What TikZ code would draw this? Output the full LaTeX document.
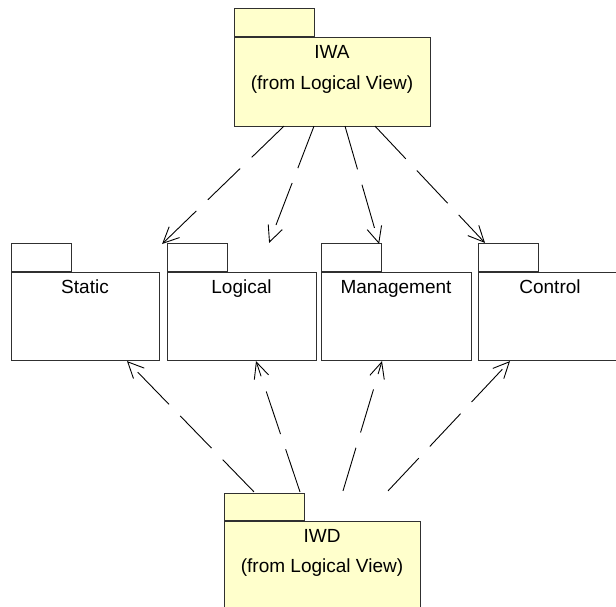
\documentclass[tikz,border=0pt]{standalone}
\usepackage{fontspec}
\setmainfont{Liberation Sans}
\usetikzlibrary{arrows.meta,calc}
\definecolor{pkgyellow}{HTML}{FFFFCC}
\definecolor{pkgline}{HTML}{303030}
\begin{document}
\begin{tikzpicture}[x=1pt,y=-1pt,
  pkgbody/.style={draw=pkgline, line width=1.1pt, fill=#1, inner sep=0pt,
    minimum height=88pt, anchor=north west},
  pkgtab/.style={draw=pkgline, line width=1.1pt, fill=#1, inner sep=0pt,
    minimum height=28pt, anchor=south west},
  pkglabel/.style={anchor=base, inner sep=0pt, font=\fontsize{19}{22}\selectfont},
  dep/.style={draw=black, line width=0.9pt, dash pattern=on 45pt off 16pt,
    -{Straight Barb[length=16pt,width=15pt]}}]
\useasboundingbox (0,0) rectangle (616,607);
\clip (0,0) rectangle (616,607);
\fill[white] (0,0) rectangle (616,607);

% top package
\node[pkgtab=pkgyellow, minimum width=80pt] (iwaTab) at (234,37) {};
\node[pkgbody=pkgyellow, minimum width=196pt, minimum height=89pt] (iwa) at (234,37) {};
\node[pkglabel] (iwaName) at (332,59) {IWA};
\node[pkglabel] (iwaFrom) at (332,90) {(from Logical View)};

% middle row of packages
\node[pkgtab=white, minimum width=60pt] (staticTab) at (11,272) {};
\node[pkgbody=white, minimum width=148pt] (static) at (11,272) {};
\node[pkglabel] (staticName) at (85,293) {Static};

\node[pkgtab=white, minimum width=60pt] (logicalTab) at (167,272) {};
\node[pkgbody=white, minimum width=149pt] (logical) at (167,272) {};
\node[pkglabel] (logicalName) at (241.5,293) {Logical};

\node[pkgtab=white, minimum width=60pt] (mgmtTab) at (321,272) {};
\node[pkgbody=white, minimum width=150pt] (mgmt) at (321,272) {};
\node[pkglabel] (mgmtName) at (396,293) {Management};

\node[pkgtab=white, minimum width=60pt] (controlTab) at (478,272) {};
\node[pkgbody=white, minimum width=150pt] (control) at (478,272) {};
\node[pkglabel] (controlName) at (550,293) {Control};

% bottom package
\node[pkgtab=pkgyellow, minimum width=80pt, minimum height=27pt] (iwdTab) at (224,521) {};
\node[pkgbody=pkgyellow, minimum width=196pt, minimum height=89pt] (iwd) at (224,521) {};
\node[pkglabel] (iwdName) at (322,542) {IWD};
\node[pkglabel] (iwdFrom) at (322,572) {(from Logical View)};

% attachment points of the dependencies
\coordinate (a1s) at ($(iwa.south west)+(50,-1)$);
\coordinate (a2s) at ($(iwa.south west)+(80,-1)$);
\coordinate (a3s) at ($(iwa.south west)+(111,-1)$);
\coordinate (a4s) at ($(iwa.south west)+(141,-1)$);
\coordinate (a1e) at ($(static.north east)+(2,-28)$);
\coordinate (a2e) at ($(logicalTab.north east)+(41,0)$);
\coordinate (a3e) at ($(mgmtTab.north east)+(-3,1)$);
\coordinate (a4e) at ($(controlTab.north west)+(7,0)$);

\coordinate (b1s) at ($(iwdTab.north west)+(30,-1)$);
\coordinate (b2s) at ($(iwdTab.north west)+(76,-1)$);
\coordinate (b3s) at ($(iwdTab.north west)+(119,-2)$);
\coordinate (b4s) at ($(iwdTab.north west)+(164,-2)$);
\coordinate (b1e) at ($(static.south west)+(116,0)$);
\coordinate (b2e) at ($(logical.south west)+(89,0)$);
\coordinate (b3e) at ($(mgmt.south west)+(61,0)$);
\coordinate (b4e) at ($(control.south west)+(32,0)$);

% dependencies from IWA
\draw[dep] (a1s) -- (a1e);
\draw[dep] (a2s) -- (a2e);
\draw[dep] (a3s) -- (a3e);
\draw[dep] (a4s) -- (a4e);

% dependencies from IWD
\draw[dep] (b1s) -- (b1e);
\draw[dep] (b2s) -- (b2e);
\draw[dep] (b3s) -- (b3e);
\draw[dep] (b4s) -- (b4e);
\end{tikzpicture}
\end{document}
